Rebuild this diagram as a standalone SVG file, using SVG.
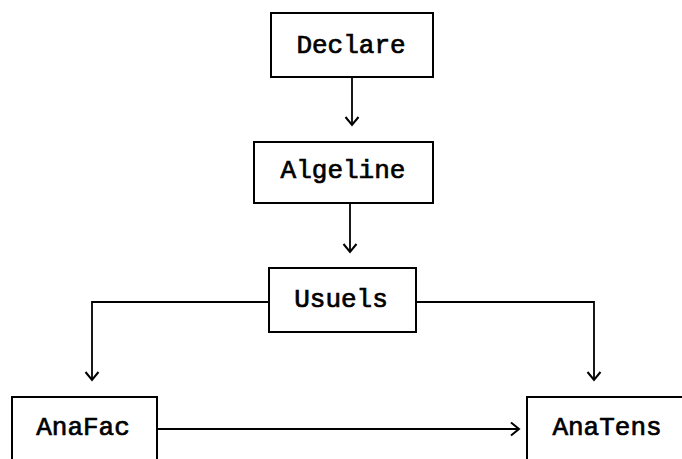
<svg xmlns="http://www.w3.org/2000/svg" width="682" height="459" viewBox="0 0 682 459">
<style>
.box{fill:#fff;stroke:#000;stroke-width:2}
.lbl{font-family:"Liberation Mono","Courier New",monospace;font-size:26px;font-weight:normal;fill:#000;stroke:#000;stroke-width:0.7;text-anchor:middle}
.con{fill:none;stroke:#000;stroke-width:1.8}
</style>
<defs>
<marker id="ah" markerUnits="userSpaceOnUse" markerWidth="20" markerHeight="20" refX="10" refY="10" orient="auto" viewBox="0 0 20 20">
<path d="M2,3.5 L10,10 L2,16.5" fill="none" stroke="#000" stroke-width="2"/>
</marker>
</defs>
<rect width="682" height="459" fill="#fff"/>
<g id="connectors">
<path class="con" d="M352,77 L352,125" marker-end="url(#ah)"/>
<path class="con" d="M350,203 L350,252" marker-end="url(#ah)"/>
<path class="con" d="M269,302 L92,302 L92,380" marker-end="url(#ah)"/>
<path class="con" d="M416,302 L594,302 L594,380" marker-end="url(#ah)"/>
<path class="con" d="M157,429 L519,429" marker-end="url(#ah)"/>
</g>
<g id="declare">
<rect class="box" x="271" y="13" width="162" height="64"/>
<text class="lbl" x="351" y="53">Declare</text>
</g>
<g id="algeline">
<rect class="box" x="254" y="142" width="179" height="61"/>
<text class="lbl" x="343" y="178">Algeline</text>
</g>
<g id="usuels">
<rect class="box" x="269" y="268" width="147" height="64"/>
<text class="lbl" x="341" y="307">Usuels</text>
</g>
<g id="anafac">
<rect class="box" x="12" y="397" width="145" height="80"/>
<text class="lbl" x="83" y="435">AnaFac</text>
</g>
<g id="anatens">
<rect class="box" x="527" y="397" width="170" height="80"/>
<text class="lbl" x="607" y="435">AnaTens</text>
</g>
</svg>
